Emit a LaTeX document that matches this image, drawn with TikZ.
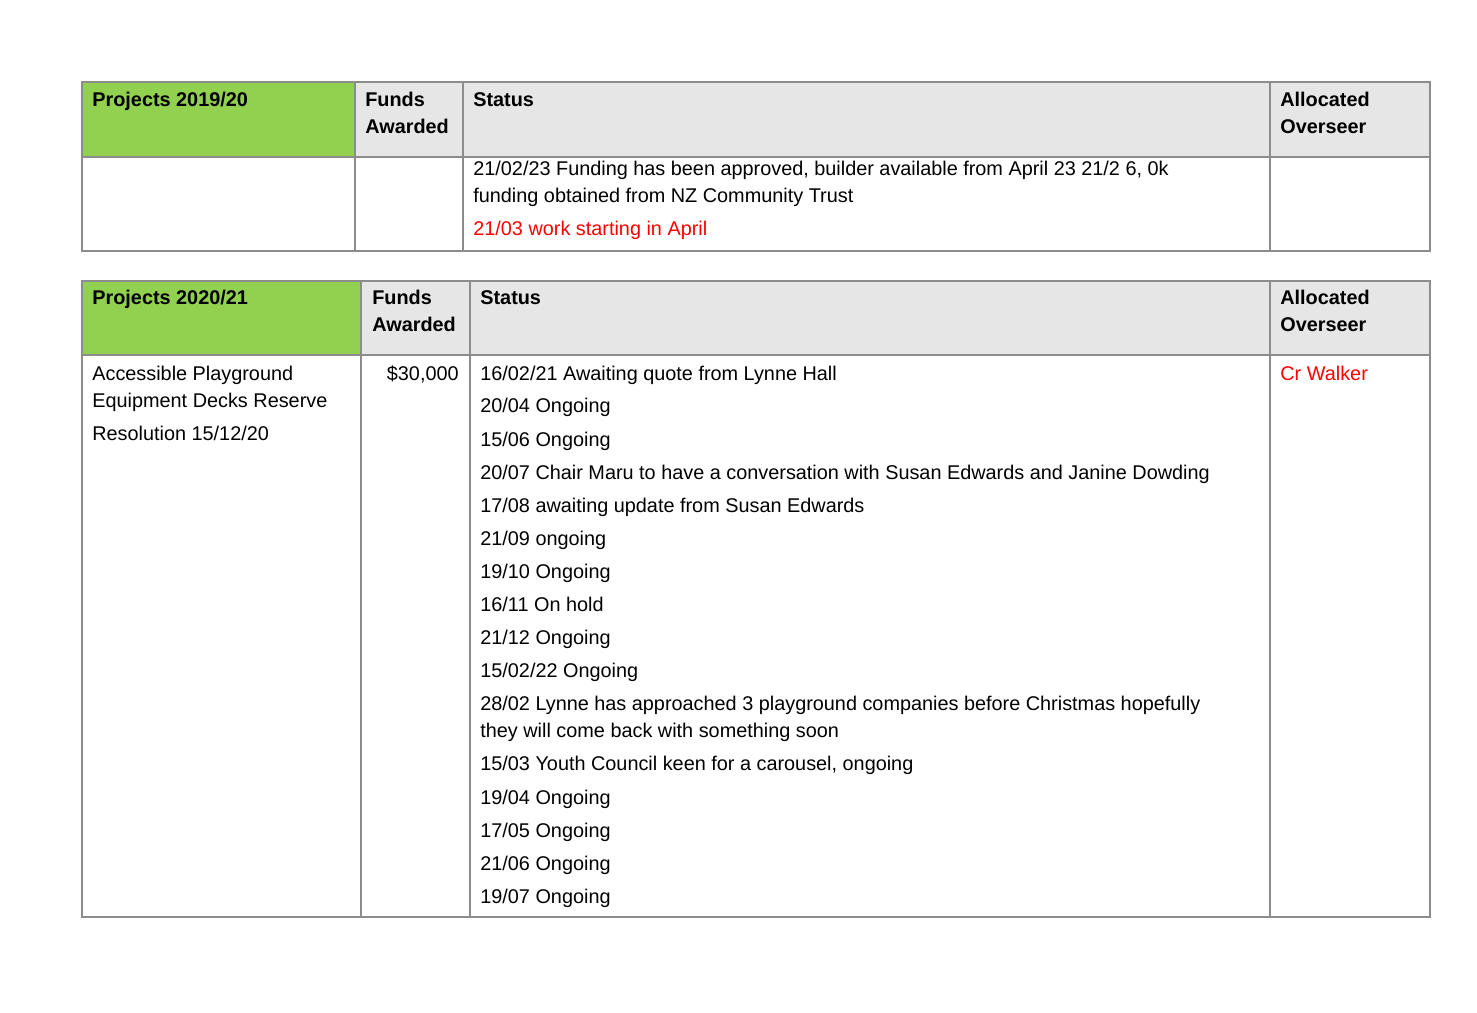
\documentclass[tikz,border=0pt]{standalone}
\usepackage{fontspec}
\setmainfont{Liberation Sans}
\definecolor{projgreen}{HTML}{92D050}
\definecolor{headgrey}{HTML}{E7E6E6}
\definecolor{rulegrey}{HTML}{8C8C8C}
\definecolor{notered}{HTML}{FF0000}
\begin{document}
\begin{tikzpicture}[x=0.02cm, y=-0.02cm, font=\fontsize{11.3}{15}\selectfont,
  cell/.style={draw=rulegrey, line width=0.6pt},
  txt/.style={anchor=base west, inner sep=0pt},
  bold/.style={txt, font=\fontsize{11.3}{15}\selectfont\bfseries}]
\useasboundingbox (0,0) rectangle (1477,1013);

% first table
\fill[projgreen] (82,82) rectangle (355,157);
\fill[headgrey] (355,82) rectangle (1430,157);
\draw[cell] (82,82) rectangle (1430,251);
\draw[cell] (82,157) -- (1430,157);
\foreach \x in {355,463,1270} \draw[cell] (\x,82) -- (\x,251);
\node[bold] (p1) at (92,107) {Projects 2019/20};
\node[bold] (f1) at (365,107) {Funds};
\node[bold] (f1b) at (365,134) {Awarded};
\node[bold] (s1) at (473,107) {Status};
\node[bold] (o1) at (1280,107) {Allocated};
\node[bold] (o1b) at (1280,134) {Overseer};
\node[txt] (a1) at (473,176) {21/02/23 Funding has been approved, builder available from April 23 21/2 6, 0k};
\node[txt] (a2) at (473,203) {funding obtained from NZ Community Trust};
\node[txt, text=notered] (a3) at (473,236) {21/03 work starting in April};

% second table
\fill[projgreen] (82,281) rectangle (361,355);
\fill[headgrey] (361,281) rectangle (1430,355);
\draw[cell] (82,281) rectangle (1430,917);
\draw[cell] (82,355) -- (1430,355);
\foreach \x in {361,470,1270} \draw[cell] (\x,281) -- (\x,917);
\node[bold] (p2) at (92,305) {Projects 2020/21};
\node[bold] (f2) at (372,305) {Funds};
\node[bold] (f2b) at (372,332) {Awarded};
\node[bold] (s2) at (480,305) {Status};
\node[bold] (o2) at (1280,305) {Allocated};
\node[bold] (o2b) at (1280,332) {Overseer};
\node[txt] (n1) at (92,380) {Accessible Playground};
\node[txt] (n2) at (92,407) {Equipment Decks Reserve};
\node[txt] (n3) at (92,440) {Resolution 15/12/20};
\node[txt, anchor=base east] (amt) at (459,380) {\$30,000};
\node[txt, text=notered] (ow) at (1280,380) {Cr Walker};
\foreach \yy/\t [count=\i] in {
  380/{16/02/21 Awaiting quote from Lynne Hall},
  413/{20/04 Ongoing},
  446/{15/06 Ongoing},
  479/{20/07 Chair Maru to have a conversation with Susan Edwards and Janine Dowding},
  512/{17/08 awaiting update from Susan Edwards},
  545/{21/09 ongoing},
  578/{19/10 Ongoing},
  611/{16/11 On hold},
  644/{21/12 Ongoing},
  677/{15/02/22 Ongoing},
  710/{28/02 Lynne has approached 3 playground companies before Christmas hopefully},
  737/{they will come back with something soon},
  770/{15/03 Youth Council keen for a carousel, ongoing},
  804/{19/04 Ongoing},
  837/{17/05 Ongoing},
  870/{21/06 Ongoing},
  903/{19/07 Ongoing}}
  \node[txt] (st\i) at (480,\yy) {\t};
\end{tikzpicture}
\end{document}
